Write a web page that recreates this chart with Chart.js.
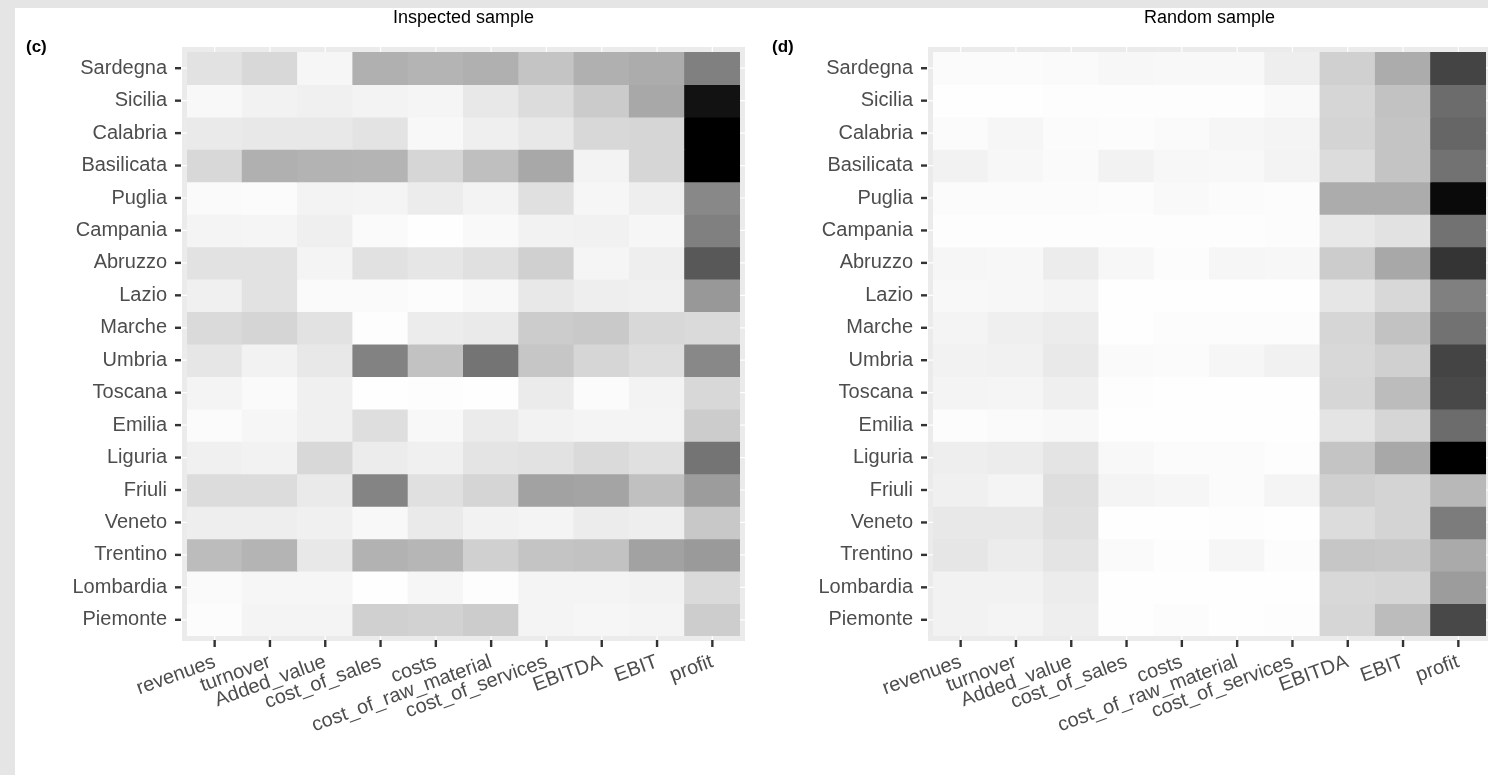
<!DOCTYPE html>
<html>
<head>
<meta charset="utf-8">
<script src="https://cdn.jsdelivr.net/npm/chart.js@4.4.1/dist/chart.umd.min.js"></script>
<style>
  html, body { margin: 0; padding: 0; width: 1488px; height: 775px; background: #e5e5e5; overflow: hidden; }
  #sheet { position: absolute; left: 15px; top: 8px; right: 0; bottom: 0; background: #ffffff; }
  .box { position: absolute; }
</style>
</head>
<body>
<div id="sheet"></div>
<div class="box" id="boxL" style="left:15px; top:8px; width:733px; height:767px;"><canvas id="chartL"></canvas></div>
<div class="box" id="boxR" style="left:748px; top:8px; width:740px; height:767px;"><canvas id="chartR"></canvas></div>
<script>
// ---- data ----
const metrics = ['revenues', 'turnover', 'Added_value', 'cost_of_sales', 'costs',
  'cost_of_raw_material', 'cost_of_services', 'EBITDA', 'EBIT', 'profit'];
const regions = ['Sardegna', 'Sicilia', 'Calabria', 'Basilicata', 'Puglia', 'Campania',
  'Abruzzo', 'Lazio', 'Marche', 'Umbria', 'Toscana', 'Emilia', 'Liguria', 'Friuli',
  'Veneto', 'Trentino', 'Lombardia', 'Piemonte'];
const panelTitles = ['Inspected sample', 'Random sample'];
const panelTags = ['(c)', '(d)'];

// grey level of each tile (0 = black, 255 = white), one row per region, columns follow metrics
const inspectedGrey = [
  [0xe2, 0xd8, 0xf6, 0xb0, 0xb4, 0xb0, 0xc4, 0xb0, 0xac, 0x80],
  [0xf8, 0xf2, 0xf0, 0xf3, 0xf5, 0xe8, 0xdc, 0xcb, 0xa8, 0x12],
  [0xea, 0xe8, 0xe8, 0xe3, 0xf8, 0xef, 0xe8, 0xd8, 0xd6, 0x00],
  [0xd8, 0xb0, 0xb3, 0xb4, 0xd6, 0xbf, 0xa8, 0xf3, 0xd6, 0x00],
  [0xfa, 0xfb, 0xf3, 0xf4, 0xec, 0xf3, 0xe0, 0xf6, 0xee, 0x88],
  [0xf4, 0xf5, 0xef, 0xfa, 0xfe, 0xf9, 0xf2, 0xf1, 0xf6, 0x80],
  [0xe2, 0xe2, 0xf4, 0xe1, 0xe6, 0xe0, 0xd0, 0xf5, 0xee, 0x58],
  [0xf0, 0xe2, 0xfa, 0xfa, 0xfc, 0xf8, 0xe8, 0xee, 0xf0, 0x98],
  [0xda, 0xd5, 0xe2, 0xfd, 0xec, 0xea, 0xcc, 0xc9, 0xd8, 0xda],
  [0xe6, 0xf2, 0xe8, 0x82, 0xc2, 0x74, 0xc6, 0xd6, 0xde, 0x88],
  [0xf4, 0xfa, 0xf0, 0xfe, 0xfd, 0xfe, 0xeb, 0xfb, 0xf3, 0xd8],
  [0xfb, 0xf6, 0xf0, 0xde, 0xf8, 0xeb, 0xf2, 0xf4, 0xf4, 0xcc],
  [0xf0, 0xf2, 0xd8, 0xec, 0xf0, 0xe4, 0xe2, 0xda, 0xe0, 0x74],
  [0xdc, 0xdc, 0xea, 0x84, 0xe0, 0xd5, 0xa2, 0xa4, 0xc0, 0x9c],
  [0xee, 0xee, 0xf0, 0xf8, 0xea, 0xf2, 0xf4, 0xec, 0xee, 0xc8],
  [0xbc, 0xb4, 0xe8, 0xb2, 0xb6, 0xd0, 0xc4, 0xc2, 0xa2, 0x9a],
  [0xfa, 0xf6, 0xf6, 0xfe, 0xf6, 0xfd, 0xf4, 0xf4, 0xf2, 0xda],
  [0xfc, 0xf4, 0xf4, 0xd0, 0xd2, 0xcc, 0xf4, 0xf6, 0xf4, 0xcd]
];
const randomGrey = [
  [0xfb, 0xfb, 0xfa, 0xf7, 0xf8, 0xf8, 0xee, 0xd0, 0xac, 0x44],
  [0xfe, 0xfe, 0xfd, 0xfd, 0xfd, 0xfd, 0xf9, 0xd6, 0xc2, 0x6c],
  [0xfb, 0xf6, 0xfb, 0xfc, 0xfa, 0xf6, 0xf4, 0xd4, 0xc4, 0x66],
  [0xf2, 0xf7, 0xfa, 0xf2, 0xf7, 0xf8, 0xf3, 0xdc, 0xc4, 0x72],
  [0xfb, 0xfb, 0xfb, 0xfc, 0xf9, 0xfb, 0xfc, 0xac, 0xac, 0x0a],
  [0xfd, 0xfd, 0xfd, 0xfd, 0xfd, 0xfd, 0xfc, 0xe8, 0xe2, 0x72],
  [0xf6, 0xf7, 0xec, 0xf7, 0xfc, 0xf6, 0xf7, 0xcc, 0xa8, 0x34],
  [0xf8, 0xf7, 0xf4, 0xfe, 0xfe, 0xfe, 0xfe, 0xe6, 0xd8, 0x80],
  [0xf4, 0xef, 0xec, 0xfe, 0xfc, 0xfc, 0xfc, 0xd6, 0xc2, 0x72],
  [0xf2, 0xf1, 0xe9, 0xfa, 0xfb, 0xf6, 0xf1, 0xd8, 0xd0, 0x44],
  [0xf4, 0xf5, 0xef, 0xfd, 0xfe, 0xfe, 0xfe, 0xd6, 0xbc, 0x48],
  [0xfc, 0xfa, 0xf8, 0xfe, 0xfe, 0xfe, 0xfe, 0xe4, 0xd6, 0x6c],
  [0xee, 0xec, 0xe4, 0xf8, 0xfb, 0xfb, 0xfd, 0xc4, 0xa8, 0x00],
  [0xf0, 0xf4, 0xde, 0xf4, 0xf6, 0xfb, 0xf4, 0xd0, 0xd4, 0xb8],
  [0xe8, 0xe8, 0xe0, 0xfe, 0xfe, 0xfd, 0xfe, 0xdc, 0xd4, 0x7c],
  [0xe6, 0xec, 0xe4, 0xfa, 0xfd, 0xf6, 0xfc, 0xc6, 0xc8, 0xaa],
  [0xf2, 0xf2, 0xec, 0xfe, 0xfe, 0xfe, 0xfe, 0xd8, 0xd6, 0x9c],
  [0xf2, 0xf4, 0xee, 0xfe, 0xfc, 0xfe, 0xfd, 0xd6, 0xbc, 0x48]
];

// ---- drawing ----
const FONT = '"Liberation Sans", Arial, Helvetica, sans-serif';
const greyColor = g => `rgb(${g},${g},${g})`;
const nRows = regions.length;

function buildDatasets(grid) {
  return regions.map((name, r) => {
    const pos = nRows - 1 - r; // first region on top
    return {
      label: name,
      data: metrics.map(() => [pos, pos + 1]),
      backgroundColor: grid[r].map(greyColor),
      borderWidth: 0,
      barPercentage: 1,
      categoryPercentage: 1,
      grouped: false,
      inflateAmount: 0.5
    };
  });
}

const panelPlugin = {
  id: 'panelDecor',
  beforeDatasetsDraw(chart, args, opts) {
    const { ctx, chartArea: a } = chart;
    const m = 5;
    ctx.save();
    ctx.fillStyle = '#ebebeb';
    ctx.fillRect(a.left - m, a.top - m, a.right - a.left + 2 * m, a.bottom - a.top + 2 * m);
    ctx.strokeStyle = '#ffffff';
    ctx.lineWidth = 1.2;
    const xs = chart.scales.x, ys = chart.scales.y;
    xs.ticks.forEach((t, i) => {
      const px = xs.getPixelForTick(i);
      ctx.beginPath(); ctx.moveTo(px, a.top - m); ctx.lineTo(px, a.bottom + m); ctx.stroke();
    });
    ys.ticks.forEach((t) => {
      const py = ys.getPixelForValue(t.value);
      ctx.beginPath(); ctx.moveTo(a.left - m, py); ctx.lineTo(a.right + m, py); ctx.stroke();
    });
    ctx.restore();
  },
  afterDraw(chart, args, opts) {
    const { ctx, chartArea: a } = chart;
    const m = 5, tl = 6;
    const xs = chart.scales.x, ys = chart.scales.y;
    ctx.save();
    ctx.strokeStyle = '#333333';
    ctx.lineWidth = 2.4;
    xs.ticks.forEach((t, i) => {
      const px = xs.getPixelForTick(i);
      ctx.beginPath(); ctx.moveTo(px, a.bottom + m - 1); ctx.lineTo(px, a.bottom + m + tl); ctx.stroke();
    });
    ys.ticks.forEach((t) => {
      const py = ys.getPixelForValue(t.value);
      ctx.beginPath(); ctx.moveTo(a.left - m - tl - 1, py); ctx.lineTo(a.left - m - 1, py); ctx.stroke();
    });
    // title
    ctx.fillStyle = '#000000';
    ctx.font = `18px ${FONT}`;
    ctx.textAlign = 'center';
    ctx.textBaseline = 'alphabetic';
    ctx.fillText(opts.title, (a.left + a.right) / 2, 15);
    // panel tag
    ctx.font = `bold 17px ${FONT}`;
    ctx.textAlign = 'left';
    ctx.fillText(opts.tag, opts.tagX, 44);
    ctx.restore();
  }
};

function makeChart(canvasId, grid, idx, yWidth, rightPad, tagX) {
  return new Chart(document.getElementById(canvasId), {
    type: 'bar',
    data: { labels: metrics, datasets: buildDatasets(grid) },
    plugins: [panelPlugin],
    options: {
      responsive: true,
      maintainAspectRatio: false,
      animation: false,
      events: [],
      layout: { padding: { top: 44, right: rightPad, left: 0, bottom: 0 } },
      plugins: {
        legend: { display: false },
        title: { display: false },
        tooltip: { enabled: false },
        panelDecor: { title: panelTitles[idx], tag: panelTags[idx], tagX: tagX }
      },
      scales: {
        x: {
          type: 'category',
          offset: true,
          grid: { display: false, drawTicks: false },
          border: { display: false },
          ticks: {
            autoSkip: false,
            minRotation: 20,
            maxRotation: 20,
            padding: 14,
            color: '#4d4d4d',
            font: { family: FONT, size: 20 }
          },
          afterFit: s => { s.height = 139; }
        },
        y: {
          type: 'linear',
          min: 0,
          max: nRows,
          grid: { display: false, drawTicks: false },
          border: { display: false },
          afterBuildTicks: s => { s.ticks = regions.map((_, r) => ({ value: nRows - 1 - r + 0.5 })); },
          ticks: {
            autoSkip: false,
            padding: 20,
            color: '#4d4d4d',
            font: { family: FONT, size: 20 },
            callback: v => regions[nRows - 1 - Math.floor(v)]
          },
          afterFit: s => { s.width = yWidth; }
        }
      }
    }
  });
}

makeChart('chartL', inspectedGrey, 0, 172, 8, 11);
makeChart('chartR', randomGrey, 1, 185, 2, 24);
</script>
</body>
</html>
